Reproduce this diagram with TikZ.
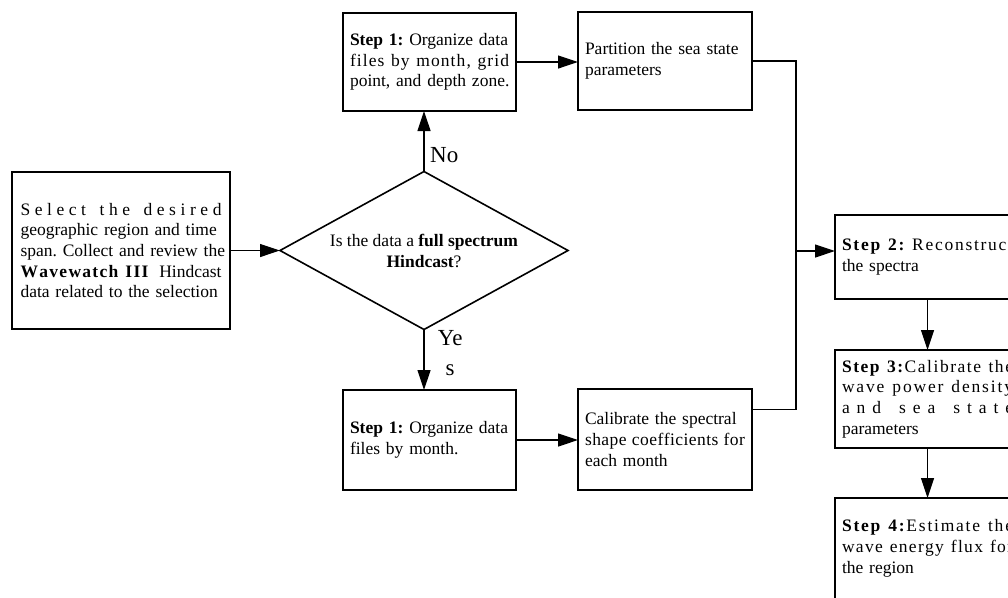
\documentclass[tikz,border=0pt]{standalone}
\usepackage{fontspec}
\setmainfont{Liberation Serif}
\usetikzlibrary{shapes.geometric,arrows.meta}
\ExplSyntaxOn
\seq_new:N \l_rs_words_seq
\bool_new:N \l_rs_first_bool
\NewDocumentCommand\SL{O{\linewidth}m}{
  \leavevmode
  \seq_set_split:Nnn \l_rs_words_seq {~} {#2}
  \hbox_to_wd:nn {#1}{
    \bool_set_true:N \l_rs_first_bool
    \seq_map_inline:Nn \l_rs_words_seq {
      \bool_if:NF \l_rs_first_bool { \hskip 0.25em \hfil }
      \bool_set_false:N \l_rs_first_bool
      \tl_map_inline:nn {##1}{ \token_if_cs:NTF ####1 {####1} {####1\hfil} }
    }
    \unskip
  }
}
\ExplSyntaxOff
\newcommand\JL[1]{\leavevmode\makebox[\linewidth][s]{#1}}
\tikzset{
  box/.style={draw, line width=1.6pt, rectangle, anchor=north west, outer sep=0pt,
    inner xsep=7pt, inner ysep=0pt, align=left,
    font=\fontsize{17.5}{20.7}\selectfont\frenchspacing},
  ln/.style={line width=1.2pt},
  arr/.style={line width=1.2pt, -{Triangle[length=20pt,width=13pt]}},
  lab/.style={inner sep=0pt, font=\fontsize{23}{30}\selectfont}
}
\begin{document}
\begin{tikzpicture}[x=1pt,y=-1pt]
\useasboundingbox (0,0) rectangle (1008,597);
\node[box, inner xsep=8.5pt, text width=201pt, minimum height=157pt] (sel) at (12,172)
  {\SL{Select the desired}\\
   \JL{geographic region and time}\\
   \JL{span. Collect and review the}\\
   \leavevmode\hbox to\linewidth{\SL[128pt]{\bfseries Wavewatch III}\hfil Hindcast}\\
   \mbox{data related to the selection}};
\node[draw, line width=1.6pt, diamond, aspect=1.82, inner sep=0pt, outer sep=0pt,
  minimum width=288pt, minimum height=158pt, align=center,
  font=\fontsize{17.5}{21}\selectfont] (dia) at (424,250.5)
  {Is the data a \textbf{full spectrum}\\\textbf{Hindcast}?};
\node[box, text width=159pt, minimum height=98pt] (s1a) at (343,13)
  {\JL{\textbf{Step 1:} Organize data}\\
   \SL{files by month, grid}\\
   \mbox{point, and depth zone.}};
\node[box, text width=160pt, minimum height=98pt] (part) at (578,12)
  {\mbox{Partition the sea state}\\parameters};
\node[box, text width=159pt, minimum height=100pt] (s1b) at (343,390)
  {\JL{\textbf{Step 1:} Organize data}\\
   files by month.};
\node[box, text width=160pt, minimum height=101pt] (cal) at (578,389)
  {\JL{Calibrate the spectral}\\
   \SL{shape coefficients for}\\
   each month};
\node[box, text width=171pt, minimum height=84pt] (s2) at (835,215)
  {\SL{\bfseries Step 2: \mdseries Reconstruct}\\
   the spectra};
\node[box, text width=171pt, minimum height=98pt] (s3) at (835,350)
  {\SL{\bfseries Step 3:\mdseries Calibrate the}\\
   \SL{wave power density}\\
   \SL{and sea state}\\
   parameters};
\node[box, text width=171pt, minimum height=101pt] (s4) at (835,498)
  {\SL{\bfseries Step 4:\mdseries Estimate the}\\
   \SL{wave energy flux for}\\
   the region};
\node[lab, anchor=base west] (no) at (430,162) {No};
\node[lab, anchor=base west, text width=32pt, align=center] (yes) at (434,345) {Ye\\s};
\coordinate (j) at (796,251);
\draw[arr] (sel.east) -- (dia.west);
\draw[arr] (dia.north) -- (dia.north |- s1a.south);
\draw[arr] (dia.south) -- (dia.south |- s1b.north);
\draw[arr] (s1a.east) -- (s1a.east -| part.west);
\draw[arr] (s1b.east) -- (s1b.east -| cal.west);
\draw[ln] (part.east) -| (j);
\draw[ln] ([yshift=30pt]cal.east) -| (j);
\draw[arr] (j) -- (j -| s2.west);
\draw[arr] (s2.south) -- (s3.north);
\draw[arr] (s3.south) -- (s4.north);
\end{tikzpicture}
\end{document}
